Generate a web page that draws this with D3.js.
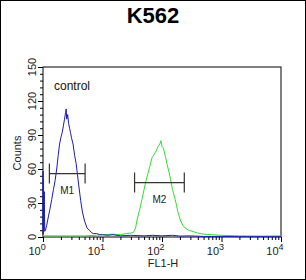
<!DOCTYPE html>
<html>
<head>
<meta charset="utf-8">
<script src="https://cdn.jsdelivr.net/npm/d3@7"></script>
<style>
  html, body { margin: 0; padding: 0; background: #fff; }
  svg { display: block; font-family: "Liberation Sans", Arial, sans-serif; }
</style>
</head>
<body>
<div id="chart"></div>
<script>
// histogram traces: [FL1-H, counts]
const controlTrace = [
  [1.0, 2], [1.0, 58], [1.01, 3], [1.02, 50], [1.03, 6], [1.05, 40], [1.07, 5],
  [1.1, 6], [1.15, 10], [1.2, 15], [1.3, 24], [1.4, 33], [1.5, 42], [1.6, 50],
  [1.7, 60], [1.8, 72], [1.9, 82], [2.0, 88], [2.1, 92], [2.2, 98], [2.3, 104],
  [2.4, 110], [2.45, 113], [2.5, 104], [2.6, 108], [2.7, 100], [2.8, 96],
  [2.9, 92], [3.0, 88], [3.2, 82], [3.4, 72], [3.6, 65], [3.8, 55], [4.0, 45],
  [4.3, 32], [4.6, 22], [5.0, 14], [5.5, 8], [6.0, 6], [6.5, 4], [7, 3], [8, 3],
  [9, 2], [10, 2], [12, 1.5], [15, 2], [20, 1], [30, 1.5], [50, 1], [70, 1.5],
  [100, 1], [150, 1.5], [200, 0.8], [300, 1], [500, 0.5], [1000, 0.5],
  [2000, 0.3], [5000, 0.3], [10000, 0.3]
];
const sampleTrace = [
  [1, 1], [2, 1], [5, 1], [8, 1.5], [10, 2], [15, 2.5], [20, 2], [25, 3],
  [30, 3.5], [33, 4], [36, 8], [38, 15], [42, 24], [46, 33], [50, 42], [54, 50],
  [58, 56], [62, 62], [68, 70], [74, 73], [80, 76], [86, 80], [92, 82], [96, 85],
  [100, 80], [106, 78], [114, 71], [122, 64], [130, 58], [138, 52], [150, 42],
  [167, 33], [185, 22], [203, 15], [225, 10], [245, 8], [280, 6], [320, 5],
  [400, 3.5], [500, 2.5], [700, 2], [1000, 1.5], [2000, 1], [5000, 0.8], [10000, 1]
];
// gate markers: name, from, to, level
const markers = [
  { name: "M1", x0: 1.28, x1: 5.1, y: 56 },
  { name: "M2", x0: 34.6, x1: 237, y: 48 }
];
const yTicks = [0, 30, 60, 90, 120, 150];
const xDecades = [0, 1, 2, 3, 4];

const W = 306, H = 280;
const margin = { left: 43, right: 25, top: 67, bottom: 43 };
const innerW = W - margin.left - margin.right;
const innerH = H - margin.top - margin.bottom;

const svg = d3.select("#chart").append("svg")
  .attr("width", W).attr("height", H);

// outer frame
svg.append("rect")
  .attr("x", 0.5).attr("y", 0.5)
  .attr("width", W - 1).attr("height", H - 1)
  .attr("fill", "#fff").attr("stroke", "#000");

svg.append("text")
  .attr("x", 153).attr("y", 23)
  .attr("text-anchor", "middle")
  .attr("font-size", 22).attr("font-weight", "bold")
  .text("K562");

const g = svg.append("g")
  .attr("transform", `translate(${margin.left},${margin.top})`);

const x = d3.scaleLog().domain([1, 10000]).range([0, innerW]);
const y = d3.scaleLinear().domain([0, 150]).range([innerH, 0]);

// plot box
g.append("rect")
  .attr("width", innerW).attr("height", innerH)
  .attr("fill", "none").attr("stroke", "#000").attr("stroke-width", 1);

// y axis: major + minor ticks
const yMinor = d3.range(0, 151, 6);
g.append("g")
  .call(d3.axisLeft(y).tickValues(yMinor).tickSize(3).tickFormat(""))
  .call(a => a.select(".domain").remove());
g.append("g")
  .call(d3.axisLeft(y).tickValues(yTicks).tickSize(5).tickFormat(""))
  .call(a => a.select(".domain").remove());
g.selectAll(".ytl").data(yTicks).join("text")
  .attr("class", "ytl")
  .attr("transform", d => `translate(-7,${y(d)}) rotate(-90)`)
  .attr("text-anchor", "middle")
  .attr("font-size", 11).attr("fill", "#222")
  .text(d => d);

// x axis: decade + minor log ticks
const xMinor = [];
for (let e = 0; e < 4; e++) for (let m = 2; m <= 9; m++) xMinor.push(m * Math.pow(10, e));
g.append("g")
  .attr("transform", `translate(0,${innerH})`)
  .call(d3.axisBottom(x).tickValues(xMinor).tickSize(3).tickFormat(""))
  .call(a => a.select(".domain").remove());
g.append("g")
  .attr("transform", `translate(0,${innerH})`)
  .call(d3.axisBottom(x).tickValues(xDecades.map(e => Math.pow(10, e))).tickSize(5).tickFormat(""))
  .call(a => a.select(".domain").remove());
const xl = g.selectAll(".xtl").data(xDecades).join("text")
  .attr("class", "xtl")
  .attr("x", d => x(Math.pow(10, d)) - 6)
  .attr("y", innerH + 18)
  .attr("text-anchor", "middle")
  .attr("font-size", 11).attr("fill", "#222");
xl.append("tspan").text("10");
xl.append("tspan").attr("font-size", 9).attr("dy", -5).text(d => d);

g.append("text")
  .attr("x", x(100) + 1).attr("y", innerH + 30)
  .attr("text-anchor", "middle").attr("font-size", 11).attr("fill", "#222")
  .text("FL1-H");
svg.append("text")
  .attr("transform", `translate(21,${margin.top + innerH / 2 + 1}) rotate(-90)`)
  .attr("text-anchor", "middle").attr("font-size", 11).attr("fill", "#222")
  .text("Counts");

g.append("text")
  .attr("x", 11).attr("y", 23)
  .attr("font-size", 12).attr("fill", "#111")
  .text("control");

const line = d3.line().x(d => x(d[0])).y(d => y(d[1]));
g.append("path").datum(sampleTrace)
  .attr("d", line).attr("fill", "none")
  .attr("stroke", "#33dd33").attr("stroke-width", 1);
g.append("path").datum(controlTrace)
  .attr("d", line).attr("fill", "none")
  .attr("stroke", "#1c1cb4").attr("stroke-width", 1);

// gate markers
const mg = g.selectAll(".marker").data(markers).join("g").attr("class", "marker");
mg.append("path")
  .attr("d", d => `M${x(d.x0)},${y(d.y) - 10}V${y(d.y) + 10}M${x(d.x0)},${y(d.y)}H${x(d.x1)}M${x(d.x1)},${y(d.y) - 10}V${y(d.y) + 10}`)
  .attr("stroke", "#333").attr("stroke-width", 1.2).attr("fill", "none");
mg.append("text")
  .attr("x", d => x(Math.sqrt(d.x0 * d.x1)))
  .attr("y", d => y(d.y) + 20)
  .attr("text-anchor", "middle").attr("font-size", 10).attr("fill", "#222")
  .text(d => d.name);
</script>
</body>
</html>
